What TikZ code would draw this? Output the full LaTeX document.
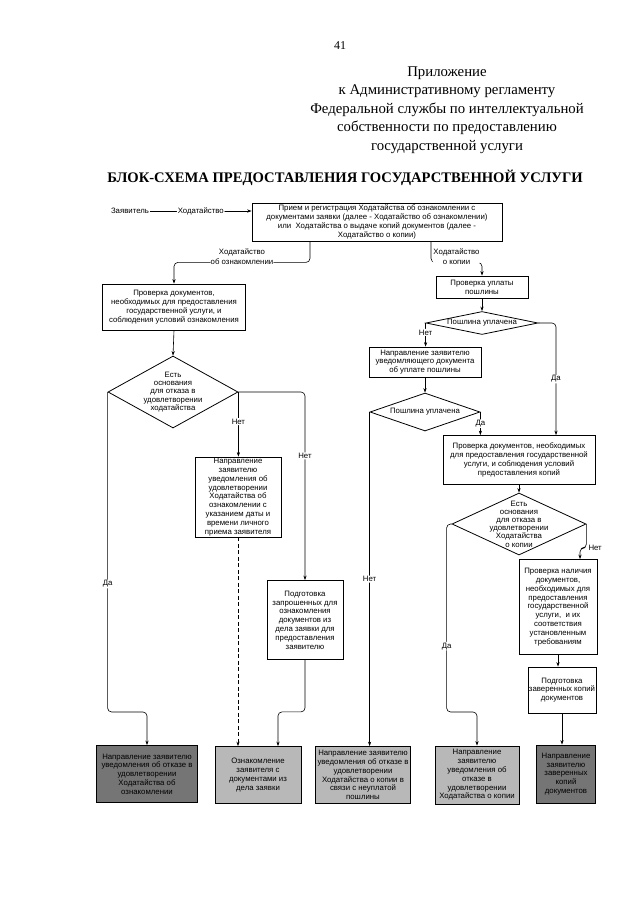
\documentclass[tikz,border=0pt]{standalone}
\usepackage{fontspec}
\setmainfont{Liberation Serif}
\newfontfamily\flowfont{Liberation Sans}
\usetikzlibrary{arrows.meta, positioning, shapes.geometric}
\definecolor{finlt}{gray}{0.72}
\definecolor{findk}{gray}{0.46}

\begin{document}
\begin{tikzpicture}[
    x=1pt, y=-1pt,
    >={Stealth[length=4.5pt, width=3.2pt]},
    box/.style={rectangle, draw=black, line width=0.8pt, fill=white, align=center, inner sep=1pt, font=\flowfont\fontsize{7.8}{8.8}\selectfont},
    fin/.style={box, fill=#1},
    dec/.style={diamond, draw=black, line width=0.8pt, fill=white, inner sep=0pt},
    txt/.style={align=center, inner sep=0pt, font=\flowfont\fontsize{7.8}{8.2}\selectfont},
    lbl/.style={align=center, fill=white, inner sep=0.8pt, font=\flowfont\fontsize{7.8}{9.5}\selectfont},
    wire/.style={->, line width=0.6pt, rounded corners=4pt},
  ]

  \useasboundingbox[fill=white] (0,0) rectangle (640,905);

  % Header
  \node[font=\fontsize{12}{14}\selectfont] (page) at (340,46) {41};
  \node[align=center, font=\fontsize{14.8}{18.5}\selectfont] (annex) at (447,110)
    {Приложение\\к Административному регламенту\\Федеральной службы по интеллектуальной\\собственности по предоставлению\\государственной услуги};
  \node[font=\bfseries\fontsize{14.6}{17}\selectfont] (title) at (345,178) {БЛОК-СХЕМА ПРЕДОСТАВЛЕНИЯ ГОСУДАРСТВЕННОЙ УСЛУГИ};

  % Registration
  \node[box, minimum width=250pt, minimum height=38pt] (reg) at (377,222)
    {Прием и регистрация Ходатайства об ознакомлении с\\документами заявки (далее - Ходатайство об ознакомлении)\\или\ \ Ходатайства о выдаче копий документов (далее -\\Ходатайство о копии)};
  \node[lbl] (applicant) at (130,211) {Заявитель};
  \draw[wire] (applicant.east) -- node[lbl, pos=0.5]{Ходатайство} (applicant.east -| reg.west);

  % Familiarisation branch
  \node[box, minimum width=143pt, minimum height=46pt] (chk) at (174,307)
    {Проверка документов,\\необходимых для предоставления\\государственной услуги, и\\соблюдения условий ознакомления};
  \node[dec, minimum width=130pt, minimum height=72pt,
    label={[txt]center:{Есть\\основания\\для отказа в\\удовлетворении\\ходатайства}}] (d1) at (173,392) {};
  \node[box, minimum width=86pt, minimum height=80pt] (notify) at (238,497)
    {Направление\\заявителю\\уведомления об\\удовлетворении\\Ходатайства об\\ознакомлении с\\указанием даты и\\времени личного\\приема заявителя};
  \node[box, minimum width=76pt, minimum height=79pt] (prep) at (305,620)
    {Подготовка\\запрошенных для\\ознакомления\\документов из\\дела заявки для\\предоставления\\заявителю};

  % Copy branch
  \node[box, minimum width=92pt, minimum height=22pt] (pay) at (482,287) {Проверка уплаты\\пошлины};
  \node[dec, minimum width=112pt, minimum height=23pt, label={[txt]center:Пошлина уплачена}] (p1) at (482,323) {};
  \node[box, minimum width=112pt, minimum height=30pt] (note) at (425,362)
    {Направление заявителю\\уведомляющего документа\\об уплате пошлины};
  \node[dec, minimum width=110pt, minimum height=38pt, label={[txt]center:Пошлина уплачена}] (p2) at (425,412) {};
  \node[box, minimum width=152pt, minimum height=49pt] (chk2) at (519,460)
    {Проверка документов, необходимых\\для предоставления государственной\\услуги, и соблюдения условий\\предоставления копий};
  \node[dec, minimum width=134pt, minimum height=62pt,
    label={[txt]center:{Есть\\основания\\для отказа в\\удовлетворении\\Ходатайства\\о копии}}] (d3) at (519,524) {};
  \node[box, minimum width=78pt, minimum height=95pt] (avail) at (558,607)
    {Проверка наличия\\документов,\\необходимых для\\предоставления\\государственной\\услуги,\ \ и их\\соответствия\\установленным\\требованиям};
  \node[box, minimum width=67pt, minimum height=46pt] (copy) at (562,690)
    {Подготовка\\заверенных копий\\документов};

  % Results
  \node[fin=findk, minimum width=101pt, minimum height=57pt] (b1) at (147,774)
    {Направление заявителю\\уведомления об отказе в\\удовлетворении\\Ходатайства об\\ознакомлении};
  \node[fin=finlt, minimum width=86pt, minimum height=57pt] (b2) at (258,775)
    {Ознакомление\\заявителя с\\документами из\\дела заявки};
  \node[fin=finlt, minimum width=95pt, minimum height=57pt] (b3) at (363,775)
    {Направление заявителю\\уведомления об отказе в\\удовлетворении\\Ходатайства о копии в\\связи с неуплатой\\пошлины};
  \node[fin=finlt, minimum width=84pt, minimum height=58pt] (b4) at (477,775)
    {Направление\\заявителю\\уведомления об\\отказе в\\удовлетворении\\Ходатайства о копии};
  \node[fin=findk, minimum width=59pt, minimum height=58pt] (b5) at (566,774)
    {Направление\\заявителю\\заверенных\\копий\\документов};

  % Connectors
  \draw[wire] ([xshift=-67pt]reg.south) -- ++(0,21) -| node[lbl, pos=0.25, yshift=6pt]{Ходатайство\\об ознакомлении} (chk.north);
  \draw[wire] ([xshift=54pt]reg.south) -- ++(0,21) -| node[lbl, pos=0.25, yshift=6pt]{Ходатайство\\о копии} (pay.north);

  \draw[wire] (chk.south) -- (d1.north);
  \draw[wire] (d1.west) -- node[lbl, pos=0.6]{Да} ++(0,320) -| (b1.north);
  \draw[wire] (d1.east) -- node[lbl, pos=0.46]{Нет} (d1.east |- notify.north);
  \draw[wire] (d1.east) -| node[lbl, pos=0.67]{Нет} (prep.north);
  \draw[wire, dash pattern=on 4pt off 2.5pt] (notify.south) -- (notify.south |- b2.north);
  \draw[wire] (prep.south) -- ++(0,52) -| ([xshift=20pt]b2.north);

  \draw[wire] (pay.south) -- (p1.north);
  \draw[wire] (p1.west) -- node[lbl, pos=0.4]{Нет} (p1.west |- note.north);
  \draw[wire] (p1.east) -| node[lbl, pos=0.75]{Да} ([xshift=37pt]chk2.north);
  \draw[wire] (note.south) -- (p2.north);
  \draw[wire] (p2.east) -- node[lbl, pos=0.5]{Да} (p2.east |- chk2.north);
  \draw[wire] (p2.west) -- node[lbl, pos=0.5]{Нет} (p2.west |- b3.north);

  \draw[wire] (chk2.south) -- (d3.north);
  \draw[wire] (d3.east) -- ++(0,24) node[lbl, anchor=west, xshift=1pt]{Нет} -| ([xshift=22pt]avail.north);
  \draw[wire] (d3.west) -- ++(-5,0) -- node[lbl, pos=0.65]{Да} ++(0,188) -| (b4.north);
  \draw[wire] (avail.south) -- (avail.south |- copy.north);
  \draw[wire] (copy.south) -- (copy.south |- b5.north);

\end{tikzpicture}
\end{document}
